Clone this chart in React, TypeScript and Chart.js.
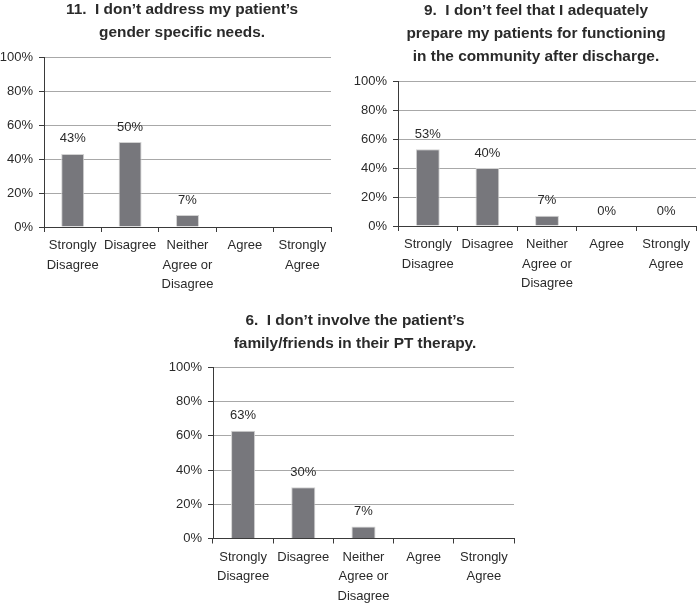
import React, { useEffect, useRef } from 'react';
import { Chart, registerables } from 'chart.js';

Chart.register(...registerables);

// ---- data ----
const categories: (string | string[])[] = [
  ['Strongly', 'Disagree'],
  'Disagree',
  ['Neither', 'Agree or', 'Disagree'],
  'Agree',
  ['Strongly', 'Agree'],
];
const yTickValues = [0, 20, 40, 60, 80, 100];

const title11 = ['11.  I don\u2019t address my patient\u2019s', 'gender specific needs.'];
const values11: (number | null)[] = [43, 50, 7, null, null];

const title9 = [
  '9.  I don\u2019t feel that I adequately',
  'prepare my patients for functioning',
  'in the community after discharge.',
];
const values9: (number | null)[] = [53, 40, 7, 0, 0];

const title6 = ['6.  I don\u2019t involve the patient\u2019s', 'family/friends in their PT therapy.'];
const values6: (number | null)[] = [63, 30, 7, null, null];

// ---- layout (canvas placement, not data) ----
interface PanelSpec {
  title: string[];
  values: (number | null)[];
  left: number;
  top: number;
  width: number;
  height: number;
  yWidth: number;
  spacer: number; // invisible right-side box so the title centres like the original
  titleBottom: number;
  xHeight: number;
}

const panels: PanelSpec[] = [
  { title: title11, values: values11, left: 0, top: -2, width: 364, height: 300, yWidth: 44, spacer: 33, titleBottom: 12.5, xHeight: 71 },
  { title: title9, values: values9, left: 350, top: -1, width: 372, height: 300, yWidth: 48, spacer: 26, titleBottom: 12.25, xHeight: 73 },
  { title: title6, values: values6, left: 160, top: 309, width: 390, height: 294, yWidth: 53, spacer: 36, titleBottom: 12, xHeight: 64.5 },
];

const FONT = '"Liberation Sans", Arial, Helvetica, sans-serif';
const TEXT = '#2a2a2a';
const AXIS = '#3a3a3a';
const GRID = '#a8a8a8';

const valueLabels = {
  id: 'valueLabels',
  afterDatasetsDraw(chart: any) {
    const ctx = chart.ctx;
    const meta = chart.getDatasetMeta(0);
    const data = chart.data.datasets[0].data;
    ctx.save();
    ctx.font = `13px ${FONT}`;
    ctx.fillStyle = TEXT;
    ctx.textAlign = 'center';
    ctx.textBaseline = 'middle';
    meta.data.forEach((bar: any, i: number) => {
      const v = data[i];
      if (v === null || v === undefined) return;
      ctx.fillText(`${v}%`, bar.x, bar.y - 15);
    });
    ctx.restore();
  },
};

function Panel({ spec }: { spec: PanelSpec }) {
  const ref = useRef<HTMLCanvasElement | null>(null);
  useEffect(() => {
    if (!ref.current) return;
    const chart = new Chart(ref.current, {
      type: 'bar',
      data: {
        labels: categories as any,
        datasets: [
          {
            data: spec.values as any,
            backgroundColor: '#77777c',
            borderColor: '#d2d2d2',
            borderWidth: 1,
            barPercentage: 0.4,
            categoryPercentage: 1,
          },
        ],
      },
      options: {
        animation: false,
        responsive: false,
        maintainAspectRatio: false,
        devicePixelRatio: 1,
        layout: {
          padding: { left: 0, right: 0, top: 0, bottom: 0 },
        },
        plugins: {
          legend: { display: false },
          tooltip: { enabled: false },
          title: {
            display: true,
            text: spec.title,
            color: TEXT,
            font: { family: FONT, size: 15.4, weight: 'bold', lineHeight: 23.25 / 15.4 },
            padding: { top: 0, bottom: spec.titleBottom },
          },
        },
        scales: {
          x: {
            offset: true,
            grid: {
              display: true,
              offset: true,
              drawOnChartArea: false,
              drawTicks: true,
              tickLength: 5,
              tickColor: AXIS,
              color: AXIS,
            },
            border: { display: true, color: AXIS, width: 1 },
            ticks: {
              color: TEXT,
              padding: 4,
              maxRotation: 0,
              autoSkip: false,
              font: { family: FONT, size: 13, lineHeight: 1.5 },
            },
            afterFit: (s: any) => {
              s.height = spec.xHeight;
            },
          },
          y: {
            min: 0,
            max: 100,
            afterBuildTicks: (s: any) => {
              s.ticks = yTickValues.map((v) => ({ value: v }));
            },
            grid: {
              color: (c: any) => (c.tick && c.tick.value === 0 ? 'rgba(0,0,0,0)' : GRID),
              lineWidth: 1,
              drawTicks: true,
              tickLength: 5,
              tickColor: AXIS,
            },
            border: { display: true, color: AXIS, width: 1 },
            ticks: {
              color: TEXT,
              padding: 6,
              font: { family: FONT, size: 13 },
              callback: (v: any) => `${v}%`,
            },
            afterFit: (s: any) => {
              s.width = spec.yWidth;
            },
          },
          spacer: {
            type: 'linear',
            position: 'right',
            display: true,
            grid: { display: false, drawTicks: false },
            border: { display: false },
            ticks: { display: false },
            afterFit: (s: any) => {
              s.width = spec.spacer;
            },
          },
        },
      },
      plugins: [valueLabels],
    });
    return () => chart.destroy();
  }, [spec]);
  return (
    <canvas
      ref={ref}
      width={spec.width}
      height={spec.height}
      style={{ position: 'absolute', left: spec.left, top: spec.top, width: spec.width, height: spec.height }}
    />
  );
}

export default function App() {
  return (
    <div style={{ position: 'absolute', left: 0, top: 0, width: 697, height: 603, background: '#fff', overflow: 'hidden' }}>
      {panels.map((p, i) => (
        <Panel key={i} spec={p} />
      ))}
    </div>
  );
}
